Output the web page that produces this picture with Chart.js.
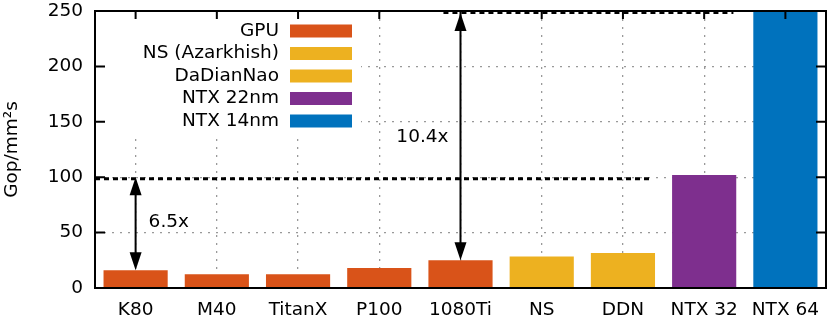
<!DOCTYPE html>
<html>
<head>
<meta charset="utf-8">
<script src="https://cdn.jsdelivr.net/npm/chart.js@4"></script>
<style>
    html, body { margin: 0; padding: 0; background: #fff; }
    #wrap { width: 830px; height: 320px; }
</style>
</head>
<body>
<div id="wrap"><canvas id="chart" width="830" height="320"></canvas></div>
<script>
// Données du graphique
const categories = ['K80', 'M40', 'TitanX', 'P100', '1080Ti', 'NS', 'DDN', 'NTX 32', 'NTX 64'];
const values = [16, 12.5, 12.5, 18, 25, 28.5, 31.5, 102, 260];
const groups = [0, 0, 0, 0, 0, 1, 2, 3, 4];
const legendLabels = ['GPU', 'NS (Azarkhish)', 'DaDianNao', 'NTX 22nm', 'NTX 14nm'];
const legendColors = ['#d95319', '#edb120', '#edb120', '#7e2f8e', '#0072bd'];
const yTicks = [0, 50, 100, 150, 200, 250];

// Lignes pointillées de référence (valeur y, de / à en unités de catégorie)
const refLines = [
    { y: 100, from: -0.5, to: 6.33 },
    { y: 250, from: 3.79, to: 7.36 }
];
// Flèches de comparaison
const arrows = [
    { index: 0, from: values[0], to: 100, label: '6.5x', labelY: 59, side: 'right' },
    { index: 4, from: values[4], to: 250, label: '10.4x', labelY: 136, side: 'left' }
];

const FONT = 'DejaVu Sans';
const FONT_SIZE = 18.5;

function drawArrowHead(ctx, x, y, dir) {
    // dir = -1 pointe vers le haut, 1 vers le bas
    ctx.beginPath();
    ctx.moveTo(x, y);
    ctx.lineTo(x - 6, y - dir * 18);
    ctx.lineTo(x + 6, y - dir * 18);
    ctx.closePath();
    ctx.fill();
}

const overlayPlugin = {
    id: 'overlay',
    beforeDatasetsDraw(chart) {
        const ctx = chart.ctx;
        const area = chart.chartArea;
        ctx.save();
        // fond blanc de la légende (cache la grille)
        ctx.fillStyle = '#fff';
        ctx.fillRect(area.left + 1, area.top + 1, 265, 123);
        ctx.font = `${FONT_SIZE}px "${FONT}"`;
        ctx.textAlign = 'right';
        ctx.textBaseline = 'middle';
        for (let i = 0; i < legendLabels.length; i++) {
            const cy = 31 + i * 22.5;
            ctx.fillStyle = '#000';
            ctx.fillText(legendLabels[i], 279, cy);
            ctx.fillStyle = legendColors[i];
            ctx.fillRect(290, cy - 6.5, 62, 13);
        }
        ctx.restore();
    },
    afterDatasetsDraw(chart) {
        const ctx = chart.ctx;
        const area = chart.chartArea;
        const x = chart.scales.x;
        const y = chart.scales.y;
        ctx.save();

        // lignes pointillées noires
        ctx.strokeStyle = '#000';
        ctx.lineWidth = 3;
        ctx.setLineDash([5, 4]);
        for (const line of refLines) {
            const py = Math.min(y.getPixelForValue(line.y) + 1.5, area.bottom);
            const x0 = Math.max(x.getPixelForValue(line.from), area.left);
            const x1 = x.getPixelForValue(line.to);
            ctx.beginPath();
            ctx.moveTo(x0, py);
            ctx.lineTo(x1, py);
            ctx.stroke();
        }
        ctx.setLineDash([]);

        // flèches
        ctx.fillStyle = '#000';
        ctx.lineWidth = 2;
        ctx.font = `${FONT_SIZE}px "${FONT}"`;
        ctx.textBaseline = 'middle';
        for (const a of arrows) {
            const px = x.getPixelForValue(a.index);
            const yTop = Math.max(y.getPixelForValue(a.to), area.top + 2);
            const yBot = y.getPixelForValue(a.from);
            ctx.beginPath();
            ctx.moveTo(px, yTop + 10);
            ctx.lineTo(px, yBot - 10);
            ctx.stroke();
            drawArrowHead(ctx, px, yTop, -1);
            drawArrowHead(ctx, px, yBot, 1);
            if (a.side === 'right') {
                ctx.textAlign = 'left';
                ctx.fillText(a.label, px + 13, y.getPixelForValue(a.labelY));
            } else {
                ctx.textAlign = 'right';
                ctx.fillText(a.label, px - 12, y.getPixelForValue(a.labelY));
            }
        }

        // cadre et graduations intérieures (style gnuplot)
        ctx.lineWidth = 2;
        ctx.strokeRect(area.left, area.top, area.right - area.left, area.bottom - area.top);
        ctx.beginPath();
        for (const t of yTicks) {
            const py = y.getPixelForValue(t);
            ctx.moveTo(area.left, py);
            ctx.lineTo(area.left + 10, py);
            ctx.moveTo(area.right, py);
            ctx.lineTo(area.right - 10, py);
        }
        for (let i = 0; i < categories.length; i++) {
            const px = x.getPixelForValue(i);
            ctx.moveTo(px, area.top);
            ctx.lineTo(px, area.top + 8);
        }
        ctx.stroke();

        // titre de l'axe y
        ctx.translate(12, (area.top + area.bottom) / 2);
        ctx.rotate(-Math.PI / 2);
        ctx.textAlign = 'center';
        ctx.fillText('Gop/mm²s', 0, 0);
        ctx.restore();
    }
};

const ctx = document.getElementById('chart').getContext('2d');
new Chart(ctx, {
    type: 'bar',
    data: {
        labels: categories,
        datasets: [{
            data: values,
            backgroundColor: groups.map(g => legendColors[g]),
            borderWidth: 0,
            barPercentage: 0.79,
            categoryPercentage: 1.0
        }]
    },
    options: {
        responsive: false,
        animation: false,
        devicePixelRatio: 1,
        layout: { padding: { top: 11, right: 4, left: 0, bottom: 0 } },
        plugins: {
            legend: { display: false },
            tooltip: { enabled: false }
        },
        scales: {
            x: {
                offset: true,
                grid: {
                    offset: false,
                    color: '#999',
                    lineWidth: 1.3,
                    drawTicks: false
                },
                border: { display: true, color: '#000', width: 2, dash: [2, 6] },
                ticks: {
                    color: '#000',
                    padding: 11,
                    font: { family: FONT, size: FONT_SIZE }
                },
                afterFit(scale) {
                    scale.height = 32;
                    scale.paddingLeft = 0;
                    scale.paddingRight = 0;
                }
            },
            y: {
                min: 0,
                max: 250,
                afterBuildTicks(scale) { scale.ticks = yTicks.map(v => ({ value: v })); },
                grid: {
                    color: (c) => (c.tick && (c.tick.value === 0 || c.tick.value === 250)) ? 'rgba(0,0,0,0)' : '#999',
                    lineWidth: 1.3,
                    drawTicks: false
                },
                border: { display: true, color: '#000', width: 2, dash: [2, 6] },
                ticks: {
                    color: '#000',
                    padding: 12,
                    font: { family: FONT, size: FONT_SIZE }
                },
                afterFit(scale) {
                    scale.width = 95;
                    scale.paddingTop = 0;
                    scale.paddingBottom = 0;
                }
            }
        }
    },
    plugins: [overlayPlugin]
});
</script>
</body>
</html>
